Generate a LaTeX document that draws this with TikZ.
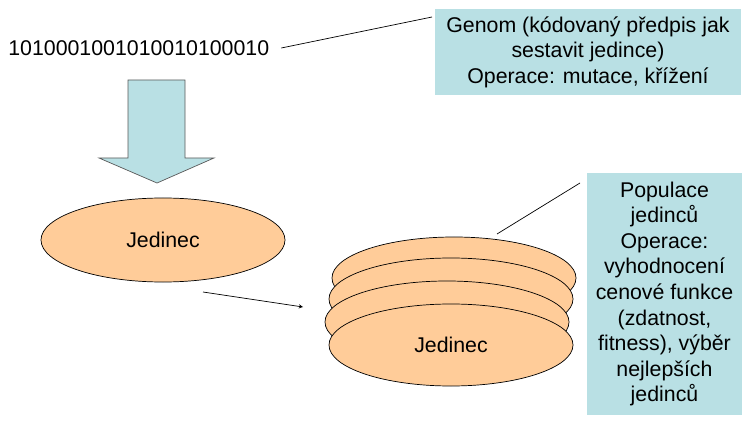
\documentclass[tikz,border=0pt]{standalone}
\usepackage{fontspec}
\setmainfont{Liberation Sans}
\usepackage{tikz}
\usetikzlibrary{arrows.meta, positioning, shapes.geometric}
\definecolor{boxCyan}{RGB}{185,224,228}
\definecolor{peach}{RGB}{255,204,153}
\definecolor{edgeGray}{gray}{0.35}
\newcommand{\slidefont}{\fontsize{18.2pt}{21.8pt}\selectfont}

\begin{document}
\begin{tikzpicture}[x=0.03cm, y=-0.03cm, >=stealth, line width=0.6pt,
    note/.style={fill=boxCyan, inner sep=0pt, align=center, font=\slidefont},
    blob/.style={ellipse, draw=black, fill=peach, inner sep=0pt, font=\slidefont}]
    \useasboundingbox (0,0) rectangle (750,425);

    % Genome
    \node[anchor=west, inner sep=0pt, font=\slidefont] (bits) at (8,48) {1010001001010010100010};
    \node[note, minimum width=9.18cm, minimum height=2.55cm] (genom) at (588,52)
        {Genom (kódovaný předpis jak\\sestavit jedince)\\Operace: mutace, křížení};
    \coordinate (gtip) at (432,17);
    \draw ([xshift=10pt]bits.east) -- (gtip);

    % Block arrow
    \draw[edgeGray, fill=boxCyan] (128,80) -- (185,80) -- (185,158) -- (214,158)
        -- (157,183) -- (99,158) -- (128,158) -- cycle;

    % Individual
    \node[blob, minimum width=7.32cm, minimum height=2.52cm] (ind) at (163,240) {Jedinec};
    \coordinate (from) at (203,292);
    \coordinate (to) at (303,307);
    \draw[->] (from) -- (to);

    % Population stack
    \node[blob, minimum width=7.32cm, minimum height=2.46cm] (pop1) at (454,278) {};
    \node[blob, minimum width=7.32cm, minimum height=2.46cm] (pop2) at (451,299) {};
    \node[blob, minimum width=7.32cm, minimum height=2.46cm] (pop3) at (447,322) {};
    \node[blob, minimum width=7.32cm, minimum height=2.46cm] (pop4) at (451,345) {Jedinec};

    \node[note, minimum width=4.65cm, minimum height=7.26cm] (popul) at (664.5,294)
        {Populace\\jedinců\\Operace:\\vyhodnocení\\cenové funkce\\(zdatnost,\\fitness), výběr\\nejlepších\\jedinců};
    \coordinate (ptip) at (580,183);
    \coordinate (pfoot) at (497,234);
    \draw (pfoot) -- (ptip);
\end{tikzpicture}
\end{document}
